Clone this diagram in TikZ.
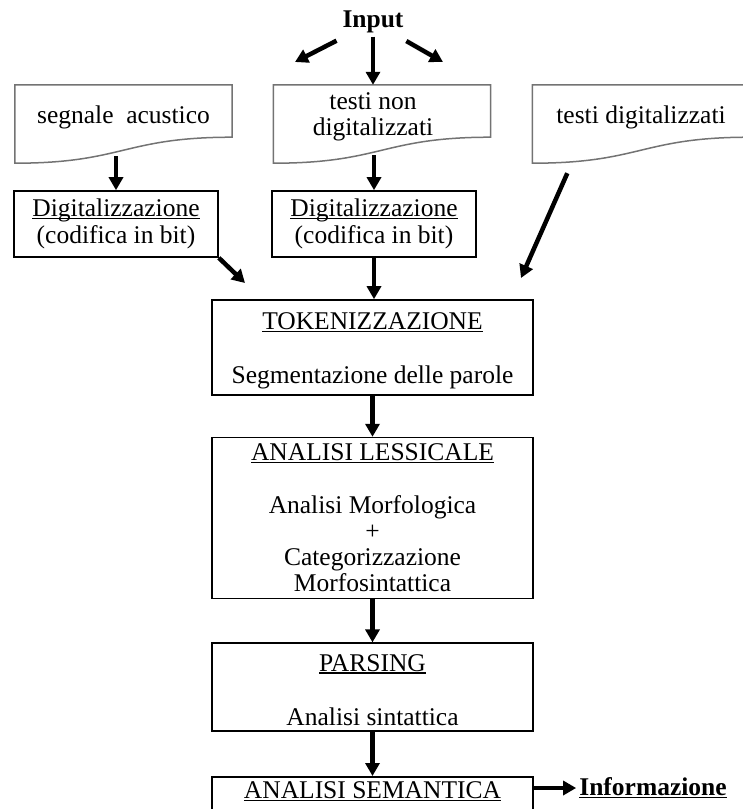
\documentclass[tikz,border=0pt]{standalone}
\usepackage{fontspec}
\setmainfont{Liberation Serif}
\usetikzlibrary{positioning,arrows.meta,calc}
\newcommand{\sottolinea}[1]{\setbox0\hbox{#1}\rlap{\rule[-2.5pt]{\wd0}{1.3pt}}\box0}

\begin{document}
\begin{tikzpicture}[x=1pt,y=-1pt,font=\fontsize{25.5}{26}\selectfont,
   >={Triangle[length=13pt,width=14pt]},
   arr/.style={->,line width=4.5pt},
   box/.style={draw,line width=1.6pt,align=center,inner sep=2pt},
   mainbox/.style={box,minimum width=321pt},
   docu/.style={minimum width=217pt,minimum height=64pt,inner sep=0pt,align=center},
   docline/.style={draw=black!55,line width=1.5pt}]
  \useasboundingbox (0,0) rectangle (743,809);
  \clip (0,0) rectangle (743,809);
  \node[font=\fontsize{25.5}{26}\selectfont\bfseries] (inp) at (373,22) {Input};
  % documenti in ingresso
  \node[docu] (sa) at (123.5,117) {segnale\ \ acustico};
  \node[docu] (tnd) at (382,117) {testi non\kern18pt\\digitalizzati\kern18pt};
  \node[docu] (td) at (641,117) {testi digitalizzati};
  \foreach \d in {sa,tnd,td}
    \draw[docline] (\d.north west) -- (\d.north east) -- ($(\d.south east)+(0,-12)$)
      .. controls ($(\d.south)+(0,-12)$) and ($(\d.south)+(0,14)$) .. ($(\d.south west)+(0,14)$) -- cycle;
  \node[box,minimum width=204pt,minimum height=66pt] (dig1) at (116,224) {\sottolinea{Digitalizzazione}\\[1pt](codifica in bit)};
  \node[box,minimum width=204pt,minimum height=66pt] (dig2) at (374,224) {\sottolinea{Digitalizzazione}\\[1pt](codifica in bit)};
  % catena di analisi
  \node[mainbox,minimum height=95pt] (tok) at (372.5,347.5) {\rule{0pt}{24pt}\sottolinea{TOKENIZZAZIONE}\\[28pt]Segmentazione delle parole};
  \node[mainbox,minimum height=161pt,below=41pt of tok] (lex) {\sottolinea{ANALISI LESSICALE}\\[27pt]Analisi Morfologica\\+\\Categorizzazione\\Morfosintattica};
  \node[mainbox,minimum height=88pt,below=43pt of lex] (par) {\rule{0pt}{22pt}\sottolinea{PARSING}\\[28pt]Analisi sintattica};
  \node[mainbox,text height=20pt,text depth=60pt,below=44pt of par] (sem) {\sottolinea{ANALISI SEMANTICA}};
  \node[font=\fontsize{25.5}{26}\selectfont\bfseries,inner sep=3pt] (info) at (653,788) {\sottolinea{Informazione}};
  \coordinate (inl) at (295,62);
  \coordinate (inr) at (443,62);
  \coordinate (t1) at (245,283);
  \coordinate (t3) at (521,278);
  \draw[arr,shorten <=9pt] (inp) -- (inl);
  \draw[arr] (inp) -- (tnd.north -| inp);
  \draw[arr,shorten <=9pt] (inp) -- (inr);
  \draw[arr,shorten <=17pt] ($(sa.south -| dig1)+(0,-10)$) -- (dig1);
  \draw[arr,shorten <=16pt] ($(tnd.south -| dig2)+(0,-10)$) -- (dig2);
  \draw[arr] (dig1.south east) -- (t1);
  \draw[arr] (dig2) -- (dig2 |- tok.north);
  \draw[arr] ($(td.south west)+(35,24)$) -- (t3);
  \draw[arr] (tok) -- (lex);
  \draw[arr] (lex) -- (par);
  \draw[arr] (par) -- (sem);
  \draw[arr] (sem.east |- info) -- (info);
\end{tikzpicture}
\end{document}
